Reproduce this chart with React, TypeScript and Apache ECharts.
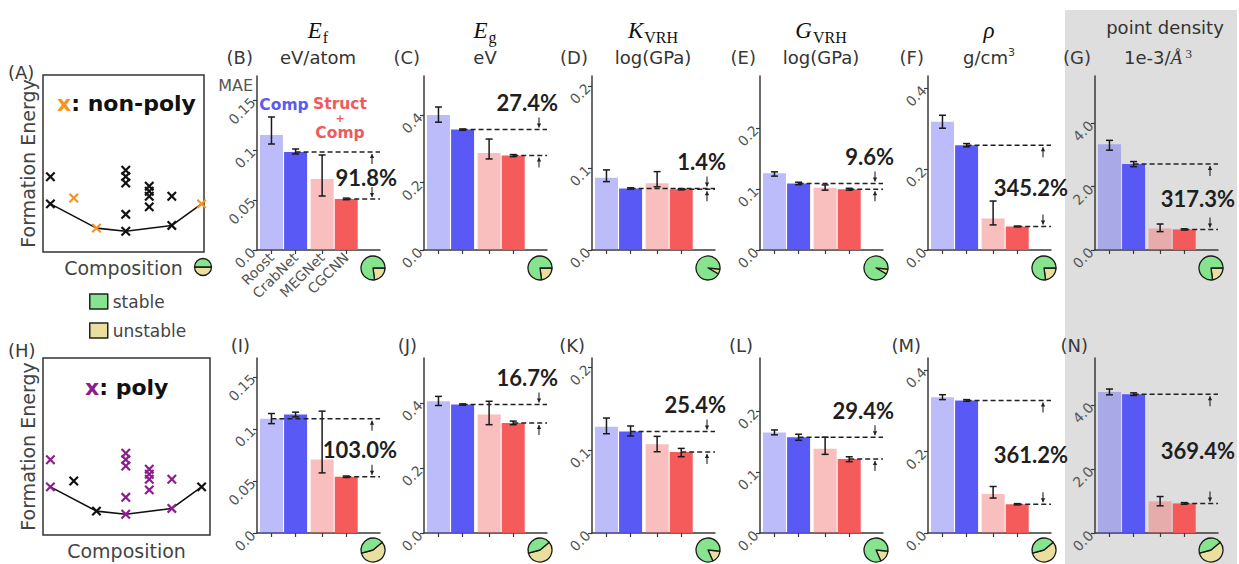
import React, { useEffect, useRef } from 'react';
import * as echarts from 'echarts';

// ---------------- data ----------------
const models = ['Roost', 'CrabNet', 'MEGNet', 'CGCNN'];

// non-polymorph test set (top row) – MAE
const efNonPoly = [0.115, 0.098, 0.071, 0.0511];
const egNonPoly = [0.4, 0.357, 0.288, 0.2802];
const kNonPoly = [0.088, 0.075, 0.0813, 0.074];
const gNonPoly = [0.1257, 0.109, 0.102, 0.0995];
const rhoNonPoly = [0.317, 0.259, 0.078, 0.0582];
const pdNonPoly = [3.34, 2.71, 0.68, 0.649];

const efNonPolyErr = [[0.106, 0.133], [0.096, 0.101], [0.054, 0.095], [0.0503, 0.0519]];
const egNonPolyErr = [[0.379, 0.424], [0.355, 0.359], [0.27, 0.329], [0.277, 0.283]];
const kNonPolyErr = [[0.0833, 0.0976], [0.0742, 0.0758], [0.077, 0.0955], [0.0733, 0.0747]];
const gNonPolyErr = [[0.121, 0.128], [0.107, 0.111], [0.098, 0.1066], [0.098, 0.101]];
const rhoNonPolyErr = [[0.301, 0.333], [0.255, 0.263], [0.062, 0.121], [0.0572, 0.0592]];
const pdNonPolyErr = [[3.15, 3.46], [2.63, 2.79], [0.58, 0.82], [0.63, 0.668]];

// polymorph test set (bottom row) – MAE
const efPoly = [0.1096, 0.1138, 0.0705, 0.054];
const egPoly = [0.405, 0.395, 0.364, 0.3385];
const kPoly = [0.128, 0.1225, 0.107, 0.0977];
const gPoly = [0.165, 0.157, 0.138, 0.1213];
const rhoPoly = [0.333, 0.325, 0.0955, 0.0705];
const pdPoly = [4.41, 4.34, 0.99, 0.925];

const efPolyErr = [[0.105, 0.1147], [0.1115, 0.116], [0.0577, 0.117], [0.0533, 0.0547]];
const egPolyErr = [[0.392, 0.42], [0.393, 0.397], [0.333, 0.405], [0.333, 0.344]];
const kPolyErr = [[0.1197, 0.1386], [0.117, 0.129], [0.098, 0.1165], [0.092, 0.102]];
const gPolyErr = [[0.161, 0.169], [0.152, 0.162], [0.129, 0.157], [0.117, 0.125]];
const rhoPolyErr = [[0.327, 0.339], [0.323, 0.327], [0.0857, 0.114], [0.069, 0.072]];
const pdPolyErr = [[4.32, 4.5], [4.3, 4.38], [0.85, 1.14], [0.9, 0.95]];

const pctNonPoly = ['91.8%', '27.4%', '1.4%', '9.6%', '345.2%', '317.3%'];
const pctPoly = ['103.0%', '16.7%', '25.4%', '29.4%', '361.2%', '369.4%'];

// fraction of stable materials (pie icons)
const stableNonPoly = [0.77, 0.77, 0.93, 0.93, 0.77, 0.77];
const stablePoly = [0.43, 0.43, 0.83, 0.83, 0.43, 0.43];
const stableSchematic = 0.5;

// y tick values / labels
const ticksEf = [0, 0.05, 0.1, 0.15];
const tickLabelsEf = ['0.0', '0.05', '0.1', '0.15'];
const ticksEg = [0, 0.2, 0.4];
const tickLabelsEg = ['0.0', '0.2', '0.4'];
const ticksMod = [0, 0.1, 0.2];
const tickLabelsMod = ['0.0', '0.1', '0.2'];
const ticksRho = [0, 0.2, 0.4];
const tickLabelsRho = ['0.0', '0.2', '0.4'];
const ticksPd = [0, 2, 4];
const tickLabelsPd = ['0.0', '2.0', '4.0'];

// schematic convex hull (panels A, H)
const hullComp = [0.46, 0.46, 1.91, 3.32, 5.14, 5.14, 5.14, 5.14, 5.14, 6.6, 6.6, 6.6, 6.6, 8.0, 8.0, 9.85];
const hullEnergy = [4.25, 2.72, 3.05, 1.35, 4.62, 4.26, 3.9, 2.13, 1.17, 3.72, 3.43, 3.15, 2.55, 3.15, 1.5, 2.72];
const hullIsPoly = [1, 1, 0, 0, 1, 1, 1, 1, 1, 1, 1, 1, 1, 1, 1, 0];
const hullLineComp = [0.46, 3.32, 5.14, 8.0, 9.85];
const hullLineEnergy = [2.72, 1.35, 1.17, 1.5, 2.72];

// ---------------- style / layout ----------------
const SANS = 'DejaVu Sans';
const SERIF = 'Liberation Serif';
const AX = '#3a3a3a';
const LBL = '#555';
const barColors = ['rgba(95,95,245,0.42)', 'rgba(80,80,246,0.95)', 'rgba(240,100,100,0.42)', 'rgba(245,82,82,0.95)'];
const GREEN = '#86e38e';
const TAN = '#ebdf9f';
const axisLeft = [257, 424, 592, 760, 928, 1095];
const plotW = 123;
const xMin = -0.6;
const xMax = 4.5;
const slots = [0, 1, 2.1, 3.1];

const nearestIdx = (arr: number[], v: number) => {
  let best = 0;
  arr.forEach((a, i) => { if (Math.abs(a - v) < Math.abs(arr[best] - v)) best = i; });
  return best;
};

const txt = (text: string, x: number, y: number, o: any = {}) => ({
  type: 'text', x, y, silent: true, z: 10,
  style: {
    text, fill: o.fill ?? '#333', fontSize: o.size ?? 18, fontFamily: o.family ?? SANS,
    fontWeight: o.weight ?? 'normal', fontStyle: o.style ?? 'normal',
    align: o.align ?? 'center', textAlign: o.align ?? 'center',
    verticalAlign: o.va ?? 'middle', textVerticalAlign: o.va ?? 'middle',
    rich: o.rich, lineHeight: o.lineHeight,
  },
});

function buildOption() {
  const grid: any[] = [];
  const xAxis: any[] = [];
  const yAxis: any[] = [];
  const series: any[] = [];
  const graphic: any[] = [];

  graphic.push({ type: 'rect', z: -10, silent: true, shape: { x: 1065, y: 10, width: 172, height: 554 }, style: { fill: '#dedede' } });

  const rows = [
    {
      mae: [efNonPoly, egNonPoly, kNonPoly, gNonPoly, rhoNonPoly, pdNonPoly],
      err: [efNonPolyErr, egNonPolyErr, kNonPolyErr, gNonPolyErr, rhoNonPolyErr, pdNonPolyErr],
      pct: pctNonPoly, stable: stableNonPoly, pieStart: [0, 0, -5, -5, 0, 0],
      yMax: [0.174, 0.516, 0.212, 0.285, 0.43, 5.49],
      top: 76, height: 174, pieY: 268,
      letters: ['(B)', '(C)', '(D)', '(E)', '(F)', '(G)'], letterY: 57, letterDx: -4,
    },
    {
      mae: [efPoly, egPoly, kPoly, gPoly, rhoPoly, pdPoly],
      err: [efPolyErr, egPolyErr, kPolyErr, gPolyErr, rhoPolyErr, pdPolyErr],
      pct: pctPoly, stable: stablePoly, pieStart: [40, 40, -5, -5, 40, 40],
      yMax: [0.168, 0.538, 0.211, 0.287, 0.429, 5.47],
      top: 358, height: 175, pieY: 550,
      letters: ['(I)', '(J)', '(K)', '(L)', '(M)', '(N)'], letterY: 345, letterDx: -7,
    },
  ];
  const ticks = [ticksEf, ticksEg, ticksMod, ticksMod, ticksRho, ticksPd];
  const tickLabels = [tickLabelsEf, tickLabelsEg, tickLabelsMod, tickLabelsMod, tickLabelsRho, tickLabelsPd];

  rows.forEach((row, r) => {
    for (let p = 0; p < 6; p++) {
      const gi = grid.length;
      const left = axisLeft[p];
      grid.push({ left, top: row.top, width: plotW, height: row.height });
      const showX = r === 0 && p === 0;
      xAxis.push({
        gridIndex: gi, type: 'value', min: xMin, max: xMax,
        axisLine: { show: true, onZero: false, lineStyle: { color: AX, width: 1.5 } },
        axisTick: { show: true, customValues: slots, length: 4, lineStyle: { color: AX, width: 1.2 } },
        axisLabel: showX
          ? { show: true, customValues: slots, rotate: 45, margin: 5, color: LBL, fontSize: 14, fontFamily: SANS, formatter: (v: number) => models[nearestIdx(slots, v)] }
          : { show: false },
        splitLine: { show: false },
      });
      const tk = ticks[p];
      const tl = tickLabels[p];
      yAxis.push({
        gridIndex: gi, type: 'value', min: 0, max: row.yMax[p],
        axisLine: { show: true, onZero: false, lineStyle: { color: AX, width: 1.5 } },
        axisTick: { show: true, customValues: tk, length: 4, lineStyle: { color: AX, width: 1.2 } },
        axisLabel: { show: true, customValues: tk, rotate: 45, margin: 4, color: LBL, fontSize: 14, fontFamily: SANS, formatter: (v: number) => tl[nearestIdx(tk, v)] },
        splitLine: { show: false },
        name: showX ? 'MAE' : undefined,
        nameLocation: 'end', nameGap: -6,
        nameTextStyle: { color: LBL, fontSize: 16, fontFamily: SANS, align: 'right', verticalAlign: 'top', padding: [0, 4, 0, 0] },
      });

      const mae = row.mae[p];
      const err = row.err[p];
      series.push({
        type: 'bar', xAxisIndex: gi, yAxisIndex: gi, barWidth: 23, silent: true, z: 2,
        data: mae.map((v, i) => ({ value: [slots[i], v], itemStyle: { color: barColors[i] } })),
      });
      series.push({
        type: 'custom', xAxisIndex: gi, yAxisIndex: gi, silent: true, clip: false, z: 4,
        data: mae.map((_, i) => [slots[i], err[i][0], err[i][1]]),
        encode: { x: 0, y: [1, 2] },
        renderItem: (_params: any, api: any) => {
          const x = api.value(0);
          const p1 = api.coord([x, api.value(1)]);
          const p2 = api.coord([x, api.value(2)]);
          const s = { stroke: '#1a1a1a', lineWidth: 1.5 };
          return {
            type: 'group', children: [
              { type: 'line', shape: { x1: p1[0], y1: p1[1], x2: p2[0], y2: p2[1] }, style: s },
              { type: 'line', shape: { x1: p1[0] - 3.5, y1: p1[1], x2: p1[0] + 3.5, y2: p1[1] }, style: s },
              { type: 'line', shape: { x1: p2[0] - 3.5, y1: p2[1], x2: p2[0] + 3.5, y2: p2[1] }, style: s },
            ],
          };
        },
      });
      const ci = mae[0] <= mae[1] ? 0 : 1;
      const si = mae[2] <= mae[3] ? 2 : 3;
      const pct = row.pct[p];
      series.push({
        type: 'custom', xAxisIndex: gi, yAxisIndex: gi, silent: true, clip: false, z: 5,
        data: [[0, 0]],
        renderItem: (_params: any, api: any) => {
          const x0 = api.coord([xMin, 0])[0];
          const xEnd = api.coord([xMax, 0])[0];
          const a = api.coord([slots[ci], mae[ci]]);
          const b = api.coord([slots[si], mae[si]]);
          const dash = { stroke: '#222', lineWidth: 1.5, lineDash: [5, 3] };
          const children: any[] = [
            { type: 'line', shape: { x1: a[0], y1: a[1], x2: xEnd, y2: a[1] }, style: dash },
            { type: 'line', shape: { x1: b[0], y1: b[1], x2: xEnd, y2: b[1] }, style: dash },
          ];
          const ax = x0 + 115;
          const arrow = (yTail: number, yHead: number) => {
            const dir = yHead < yTail ? -1 : 1;
            return [
              { type: 'line', shape: { x1: ax, y1: yTail, x2: ax, y2: yHead }, style: { stroke: '#222', lineWidth: 1.1 } },
              { type: 'polygon', shape: { points: [[ax - 2.2, yHead - dir * 4], [ax, yHead], [ax + 2.2, yHead - dir * 4]] }, style: { fill: '#222' } },
            ];
          };
          const between = b[1] - a[1] > 40;
          let tx: number, ty: number;
          if (between) {
            children.push(...arrow(a[1] + 12, a[1] + 2), ...arrow(b[1] - 12, b[1] - 2));
            tx = x0 + 140; ty = (a[1] + b[1]) / 2 + 2;
          } else {
            children.push(...arrow(a[1] - 12, a[1] - 2), ...arrow(b[1] + 12, b[1] + 2));
            tx = x0 + 134; ty = a[1] - 27;
          }
          children.push({
            type: 'text', x: tx, y: ty,
            style: { text: pct, fill: '#1f1f1f', fontSize: 22, fontWeight: 'bold', fontFamily: 'Lato', align: 'right', textAlign: 'right', verticalAlign: 'middle', textVerticalAlign: 'middle' },
          });
          return { type: 'group', children };
        },
      });
      const s = row.stable[p];
      series.push({
        type: 'pie', silent: true, center: [left + 116, row.pieY], radius: 12, startAngle: row.pieStart[p], clockwise: true,
        label: { show: false }, labelLine: { show: false }, emphasis: { disabled: true },
        itemStyle: { borderColor: '#1a1a1a', borderWidth: 1.3 },
        data: [
          { name: 'unstable', value: 1 - s, itemStyle: { color: TAN } },
          { name: 'stable', value: s, itemStyle: { color: GREEN } },
        ],
      });

      graphic.push(txt(row.letters[p], left + row.letterDx, row.letterY, { align: 'right', size: 18, fill: '#3a3a3a' }));
    }
  });

  // ---- schematic panels A and H ----
  const schem = [
    { left: 43, top: 75, width: 161, height: 177, xMaxS: 10, poly: '#111', non: '#f7941d' },
    { left: 43, top: 358, width: 167, height: 177, xMaxS: 10.37, poly: '#8c1d8c', non: '#111' },
  ];
  schem.forEach((sc) => {
    const gi = grid.length;
    grid.push({ left: sc.left, top: sc.top, width: sc.width, height: sc.height, show: true, borderColor: '#333', borderWidth: 1.5, backgroundColor: 'transparent' });
    xAxis.push({
      gridIndex: gi, type: 'value', min: 0, max: sc.xMaxS,
      axisLine: { show: false, onZero: false }, axisTick: { show: false }, axisLabel: { show: false }, splitLine: { show: false },
      name: 'Composition', nameLocation: 'middle', nameGap: 6,
      nameTextStyle: { color: '#444', fontSize: 19, fontFamily: SANS, verticalAlign: 'top' },
    });
    yAxis.push({
      gridIndex: gi, type: 'value', min: 0, max: 10,
      axisLine: { show: false, onZero: false }, axisTick: { show: false }, axisLabel: { show: false }, splitLine: { show: false },
      name: 'Formation Energy', nameLocation: 'middle', nameGap: 6,
      nameTextStyle: { color: '#444', fontSize: 19, fontFamily: SANS, verticalAlign: 'bottom' },
    });
    series.push({
      type: 'line', xAxisIndex: gi, yAxisIndex: gi, silent: true, symbol: 'none', z: 2,
      lineStyle: { color: '#111', width: 1.6 },
      data: hullLineComp.map((c, i) => [c, hullLineEnergy[i]]),
    });
    series.push({
      type: 'custom', xAxisIndex: gi, yAxisIndex: gi, silent: true, clip: false, z: 3,
      data: hullComp.map((c, i) => [c, hullEnergy[i], hullIsPoly[i]]),
      renderItem: (_params: any, api: any) => {
        const pt = api.coord([api.value(0), api.value(1)]);
        const col = api.value(2) ? sc.poly : sc.non;
        const h = 4.2;
        const st = { stroke: col, lineWidth: 2.2 };
        return {
          type: 'group', children: [
            { type: 'line', shape: { x1: pt[0] - h, y1: pt[1] - h, x2: pt[0] + h, y2: pt[1] + h }, style: st },
            { type: 'line', shape: { x1: pt[0] - h, y1: pt[1] + h, x2: pt[0] + h, y2: pt[1] - h }, style: st },
          ],
        };
      },
    });
  });
  series.push({
    type: 'pie', silent: true, center: [203, 267], radius: 8.5, startAngle: 0, clockwise: true,
    label: { show: false }, labelLine: { show: false }, emphasis: { disabled: true },
    itemStyle: { borderColor: '#1a1a1a', borderWidth: 1.3 },
    data: [
      { name: 'unstable', value: 1 - stableSchematic, itemStyle: { color: TAN } },
      { name: 'stable', value: stableSchematic, itemStyle: { color: GREEN } },
    ],
  });

  // ---- titles ----
  const mathRich = {
    m: { fontFamily: SERIF, fontStyle: 'italic', fontSize: 23, lineHeight: 24, fill: '#111', color: '#111' },
    s: { fontFamily: SERIF, fontSize: 16, lineHeight: 15, padding: [11, 0, 0, 1], verticalAlign: 'top', fill: '#111', color: '#111' },
  };
  const mathTitles = ['{m|E}{s|f}', '{m|E}{s|g}', '{m|K}{s|VRH}', '{m|G}{s|VRH}', '{m|ρ}'];
  mathTitles.forEach((t, i) => {
    graphic.push(txt(t, axisLeft[i] + 61, 30, { rich: mathRich }));
  });
  graphic.push(txt('point density', axisLeft[5] + 70, 27, { size: 18, fill: '#333' }));
  const unitRich = {
    u: { fontFamily: SANS, fontSize: 18, lineHeight: 20, fill: '#333', color: '#333' },
    sup: { fontFamily: SANS, fontSize: 11, lineHeight: 11, verticalAlign: 'top', fill: '#333', color: '#333' },
    it: { fontFamily: SERIF, fontStyle: 'italic', fontSize: 19, lineHeight: 20, fill: '#333', color: '#333' },
    supm: { fontFamily: SERIF, fontSize: 13, lineHeight: 13, verticalAlign: 'top', fill: '#333', color: '#333' },
  };
  const units = ['{u|eV/atom}', '{u|eV}', '{u|log(GPa)}', '{u|log(GPa)}', '{u|g/cm}{sup|3}', '{u|1e-3/}{it|Å}{supm| 3}'];
  units.forEach((t, i) => {
    graphic.push(txt(t, axisLeft[i] + (i === 5 ? 63 : 61), 57, { rich: unitRich }));
  });

  // ---- misc annotations ----
  graphic.push(txt('(A)', 8, 72, { align: 'left', size: 18, fill: '#3a3a3a' }));
  graphic.push(txt('(H)', 8, 350, { align: 'left', size: 18, fill: '#3a3a3a' }));
  graphic.push(txt('{o|x}{b|: non-poly}', 57, 103, {
    align: 'left',
    rich: {
      o: { fontFamily: SANS, fontSize: 22, fontWeight: 'bold', fill: '#f7941d', color: '#f7941d' },
      b: { fontFamily: SANS, fontSize: 22, fontWeight: 'bold', fill: '#111', color: '#111' },
    },
  }));
  graphic.push(txt('{o|x}{b|: poly}', 85, 387, {
    align: 'left',
    rich: {
      o: { fontFamily: SANS, fontSize: 22, fontWeight: 'bold', fill: '#8c1d8c', color: '#8c1d8c' },
      b: { fontFamily: SANS, fontSize: 22, fontWeight: 'bold', fill: '#111', color: '#111' },
    },
  }));
  graphic.push(txt('Comp', 284, 105, { size: 15.5, weight: 'bold', fill: '#5a5af5', lineHeight: 16 }));
  graphic.push(txt('Struct', 340, 104, { size: 15.5, weight: 'bold', fill: '#f05a5a', lineHeight: 16 }));
  graphic.push(txt('+', 340, 118.5, { size: 11, weight: 'bold', fill: '#f05a5a', lineHeight: 11 }));
  graphic.push(txt('Comp', 340, 133, { size: 15.5, weight: 'bold', fill: '#f05a5a', lineHeight: 16 }));

  return {
    animation: false,
    backgroundColor: '#ffffff',
    grid, xAxis, yAxis, series, graphic,
    legend: {
      data: ['stable', 'unstable'], orient: 'vertical', left: 89, top: 293, padding: 0,
      icon: 'rect', itemWidth: 18, itemHeight: 15, itemGap: 12, selectedMode: false,
      itemStyle: { borderColor: '#222', borderWidth: 1.5 },
      textStyle: { fontFamily: SANS, fontSize: 17, color: '#444' },
    },
  };
}

export default function App() {
  const ref = useRef<HTMLDivElement>(null);
  useEffect(() => {
    const chart = echarts.init(ref.current as HTMLDivElement, null, { renderer: 'svg' });
    chart.setOption(buildOption() as any);
    return () => chart.dispose();
  }, []);
  return <div ref={ref} style={{ position: 'absolute', left: 0, top: 0, width: 1239, height: 564, background: '#fff' }} />;
}
